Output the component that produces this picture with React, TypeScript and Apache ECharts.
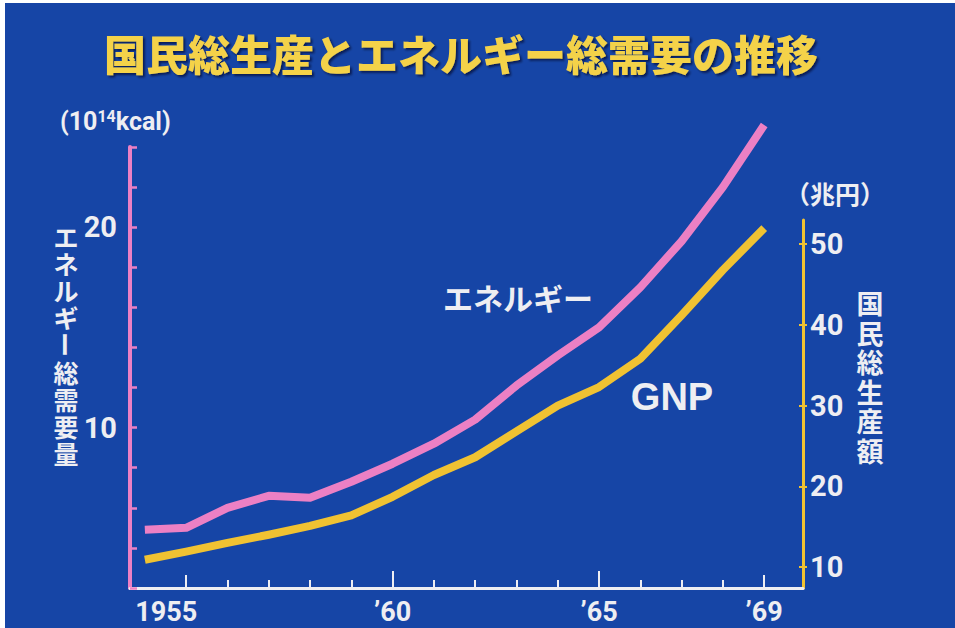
import React, { useEffect, useRef } from "react";
import * as echarts from "echarts";

// ---- data ----
const years = [1954, 1955, 1956, 1957, 1958, 1959, 1960, 1961, 1962, 1963, 1964, 1965, 1966, 1967, 1968, 1969];
const energy = [4.9, 5.0, 6.0, 6.6, 6.5, 7.3, 8.2, 9.2, 10.4, 12.1, 13.6, 15.0, 17.0, 19.3, 22.0, 25.1];
const gnp = [10.9, 11.9, 13.0, 14.0, 15.1, 16.4, 18.7, 21.4, 23.6, 26.8, 30.0, 32.3, 35.8, 41.2, 46.8, 52.0];
const xMinorTicks = [1956, 1957, 1958, 1959, 1961, 1962, 1963, 1964, 1966, 1967, 1968];
const xMidTicks = [1955, 1969];
const xMajorTicks = [1960, 1965];
const xLabels = [1955, 1960, 1965, 1969];
const leftLabels = [10, 20];
const rightTicks = [10, 20, 30, 40, 50];

const TITLE = "国民総生産とエネルギー総需要の推移";
const LEFT_NAME = "エネルギー総需要量";
const RIGHT_NAME = "国民総生産額";

const BG = "#1645a6";
const PINK = "#ec80c4";
const YELLOW = "#f0c232";
const WHITE = "#eeeef2";
const NUM_FONT = 'Roboto, "Liberation Sans", sans-serif';
const JP_FONT = '"Noto Sans CJK JP", "Noto Sans", sans-serif';

const X_MIN = 1953.64;
const X_MAX = 1969.94;

// vertical (top-to-bottom) writing: runs of characters stacked with "\n",
// the long-vowel mark "ー" turned upright as in vertical Japanese text
function verticalText(str: string, x: number, y0: number, step: number, size: number) {
  const chars = Array.from(str);
  const els: any[] = [];
  let start = 0;
  const flush = (end: number) => {
    if (end <= start) return;
    const run = chars.slice(start, end);
    els.push({
      type: "text",
      x,
      y: y0 + ((start + end - 1) / 2) * step,
      style: {
        text: run.join("\n"),
        fill: WHITE,
        font: `bold ${size}px ${JP_FONT}`,
        lineHeight: step,
        textAlign: "center",
        textVerticalAlign: "middle",
      },
    });
  };
  chars.forEach((ch, i) => {
    if (ch === "ー") {
      flush(i);
      els.push({
        type: "text",
        x,
        y: y0 + i * step,
        rotation: -Math.PI / 2,
        style: {
          text: ch,
          fill: WHITE,
          font: `bold ${size}px ${JP_FONT}`,
          lineHeight: size,
          textAlign: "center",
          textVerticalAlign: "middle",
        },
      });
      start = i + 1;
    }
  });
  flush(chars.length);
  return els;
}

export default function App() {
  const ref = useRef<HTMLDivElement>(null);
  useEffect(() => {
    if (!ref.current) return;
    const chart = echarts.init(ref.current, null, { renderer: "svg" });
    const xBase = (extra: any) => ({
      type: "value",
      min: X_MIN,
      max: X_MAX,
      position: "bottom",
      splitLine: { show: false },
      axisLine: { show: false, onZero: false },
      axisLabel: { show: false },
      axisTick: { show: false },
      ...extra,
    });
    const option: any = {
      animation: false,
      backgroundColor: BG,
      title: {
        text: TITLE,
        left: 451,
        top: 44,
        textAlign: "center",
        textVerticalAlign: "middle",
        textStyle: {
          color: "#f4d24a",
          fontSize: 42,
          fontWeight: 900,
          fontFamily: JP_FONT,
          textShadowColor: "rgba(0,0,30,0.6)",
          textShadowOffsetX: 2,
          textShadowOffsetY: 2,
          textShadowBlur: 2,
        },
      },
      grid: [
        { left: 125, right: 152, top: 144, bottom: 40 },
        { left: 125, right: 152, top: 217, bottom: 40 },
      ],
      xAxis: [
        xBase({
          gridIndex: 0,
          axisLine: { show: true, onZero: false, lineStyle: { color: WHITE, width: 3 } },
          axisTick: {
            show: true,
            inside: true,
            length: 8,
            customValues: xMinorTicks,
            lineStyle: { color: WHITE, width: 2 },
          },
          axisLabel: {
            show: true,
            customValues: xLabels,
            margin: 10,
            color: WHITE,
            fontSize: 27,
            fontWeight: "bold",
            fontFamily: NUM_FONT,
            formatter: (v: number) =>
              v === 1955 ? "{a|1955}" : "’" + String(v).slice(2),
            rich: {
              a: {
                color: WHITE,
                fontSize: 27,
                fontWeight: "bold",
                fontFamily: NUM_FONT,
                padding: [0, 40, 0, 0],
              },
            },
          },
        }),
        xBase({
          gridIndex: 0,
          axisTick: {
            show: true,
            inside: true,
            length: 13,
            customValues: xMidTicks,
            lineStyle: { color: WHITE, width: 2 },
          },
        }),
        xBase({
          gridIndex: 0,
          axisTick: {
            show: true,
            inside: true,
            length: 17,
            customValues: xMajorTicks,
            lineStyle: { color: WHITE, width: 2 },
          },
        }),
        xBase({ gridIndex: 1, show: false }),
      ],
      yAxis: [
        {
          type: "value",
          gridIndex: 0,
          position: "left",
          min: 2,
          max: 24,
          interval: 2,
          splitLine: { show: false },
          axisLine: { show: true, lineStyle: { color: PINK, width: 4 } },
          axisTick: { show: true, inside: true, length: 7, lineStyle: { color: PINK, width: 2.5 } },
          axisLabel: {
            customValues: leftLabels,
            margin: 13,
            color: WHITE,
            fontSize: 29,
            fontWeight: "bold",
            fontFamily: NUM_FONT,
          },
        },
        {
          type: "value",
          gridIndex: 1,
          position: "right",
          min: 7.4,
          max: 53,
          splitLine: { show: false },
          axisLine: { show: true, lineStyle: { color: YELLOW, width: 3 } },
          axisTick: {
            show: true,
            inside: false,
            length: 4,
            customValues: rightTicks,
            lineStyle: { color: YELLOW, width: 2 },
          },
          axisLabel: {
            customValues: rightTicks,
            margin: 7,
            color: WHITE,
            fontSize: 29,
            fontWeight: "bold",
            fontFamily: NUM_FONT,
          },
        },
        {
          type: "value",
          gridIndex: 1,
          position: "right",
          min: 7.4,
          max: 53,
          splitLine: { show: false },
          axisLine: { show: false },
          axisTick: {
            show: true,
            inside: true,
            length: 4,
            customValues: rightTicks,
            lineStyle: { color: YELLOW, width: 2 },
          },
          axisLabel: { show: false },
        },
      ],
      series: [
        {
          name: "エネルギー",
          type: "line",
          xAxisIndex: 0,
          yAxisIndex: 0,
          data: years.map((y, i) => [y, energy[i]]),
          symbol: "none",
          clip: false,
          lineStyle: { color: PINK, width: 8, join: "round", cap: "butt" },
          z: 3,
        },
        {
          name: "GNP",
          type: "line",
          xAxisIndex: 3,
          yAxisIndex: 1,
          data: years.map((y, i) => [y, gnp[i]]),
          symbol: "none",
          clip: false,
          lineStyle: { color: YELLOW, width: 8, join: "round", cap: "butt" },
          z: 3,
        },
      ],
      graphic: [
        {
          type: "text",
          x: 55,
          y: 118,
          style: {
            text: "(10{s|14}kcal)",
            fill: WHITE,
            font: `bold 25px ${NUM_FONT}`,
            textVerticalAlign: "middle",
            rich: {
              s: { fontSize: 16, fontWeight: "bold", fontFamily: NUM_FONT, fill: WHITE, verticalAlign: "top", lineHeight: 14 },
            },
          },
        },
        {
          type: "text",
          x: 830,
          y: 190,
          style: {
            text: "（兆円）",
            fill: WHITE,
            font: `bold 25px ${JP_FONT}`,
            textAlign: "center",
            textVerticalAlign: "middle",
          },
        },
        ...verticalText(LEFT_NAME, 61, 232.6, 27.2, 25),
        ...verticalText(RIGHT_NAME, 865, 299.8, 29.5, 27),
        {
          type: "text",
          x: 513,
          y: 294,
          style: {
            text: "エネルギー",
            fill: WHITE,
            font: `bold 30px ${JP_FONT}`,
            textAlign: "center",
            textVerticalAlign: "middle",
          },
        },
        {
          type: "text",
          x: 667,
          y: 394,
          style: {
            text: "GNP",
            fill: WHITE,
            font: `bold 38px "Liberation Sans", Arial, sans-serif`,
            textAlign: "center",
            textVerticalAlign: "middle",
          },
        },
      ],
    };
    chart.setOption(option);
    return () => chart.dispose();
  }, []);
  return (
    <div
      ref={ref}
      style={{ position: "fixed", left: 5, top: 3, width: 950, height: 625 }}
    />
  );
}
